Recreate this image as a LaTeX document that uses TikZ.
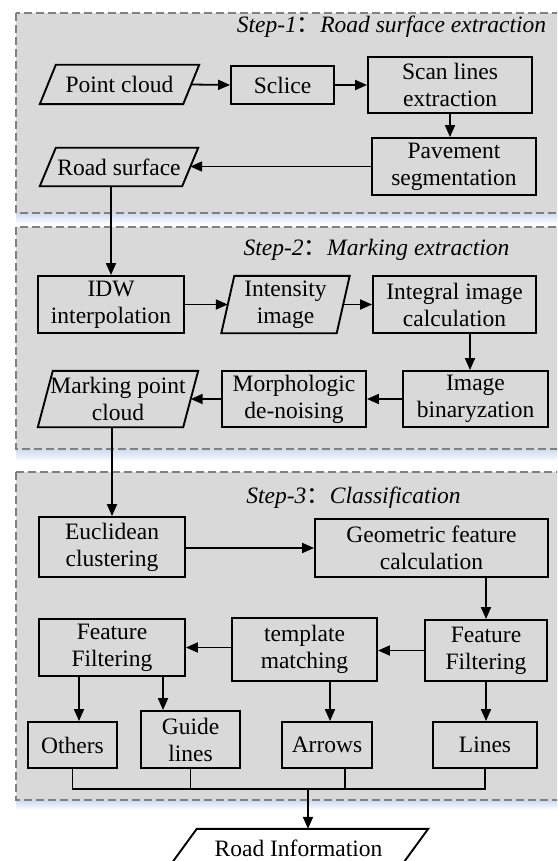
\documentclass[tikz,border=0pt]{standalone}
\usepackage{fontspec}
\setmainfont{Liberation Serif}
\newfontfamily\cjk{Noto Sans CJK SC}
\usetikzlibrary{arrows.meta,calc}
\definecolor{panelfill}{RGB}{217,217,217}
\definecolor{paneldash}{RGB}{128,128,128}
\definecolor{glow}{RGB}{205,218,238}
\newcommand{\plgram}[2]{\draw[boxline] ([xshift={-(#2)/2}]#1.south west) -- ([xshift={(#2)/2}]#1.north west) -- ([xshift={(#2)/2}]#1.north east) -- ([xshift={-(#2)/2}]#1.south east) -- cycle;}
\tikzset{
  boxline/.style={line width=1.9pt, draw=black},
  box/.style={draw=black, line width=1.9pt, inner sep=0pt, align=center, font=\fontsize{23.5}{27}\selectfont},
  plain/.style={draw=none, inner sep=0pt, align=center, font=\fontsize{23.5}{27}\selectfont},
  arr/.style={line width=1.8pt, -{Triangle[length=12pt,width=10pt]}},
  link/.style={line width=1.8pt},
  panel/.style={fill=panelfill, draw=paneldash, line width=1.8pt, dash pattern=on 8pt off 4pt},
  title/.style={font=\fontsize{23.5}{27}\selectfont\itshape, anchor=base, inner sep=0pt}
}
\begin{document}
\begin{tikzpicture}[x=1pt,y=-1pt]
\useasboundingbox (0,0) rectangle (557,861);
\clip (0,0) rectangle (557,861);
% glow under panels
\shade[top color=glow, bottom color=white] (16,213) rectangle (580,224);
\shade[top color=glow, bottom color=white] (16,449) rectangle (580,462);
\shade[top color=glow, bottom color=white] (16,800) rectangle (580,810);
% panels
\draw[panel] (16,13) rectangle (580,213);
\draw[panel] (16,227) rectangle (580,449);
\draw[panel] (16,472) rectangle (580,800);
% titles
\node[title] (t1) at (391.5,33) {Step-1{\cjk ：}Road surface extraction};
\node[title] (t2) at (376.5,255) {Step-2{\cjk ：}Marking extraction};
\node[title] (t3) at (353.5,503) {Step-3{\cjk ：}Classification};
% step 1
\node[plain, minimum width=143, minimum height=39] (pc) at (119.5,84.5) {Point cloud};
\plgram{pc}{16}
\node[box, minimum width=103, minimum height=38] (sclice) at (282.5,85) {Sclice};
\node[box, minimum width=164, minimum height=56] (scan) at (450,85) {Scan lines\\extraction};
\node[box, minimum width=164, minimum height=57] (pave) at (454,166.5) {Pavement\\segmentation};
\node[plain, minimum width=142, minimum height=38] (road) at (119,167) {Road surface};
\plgram{road}{16}
% step 2
\node[box, minimum width=146, minimum height=57] (idw) at (111,304.5) {IDW\\interpolation};
\node[plain, minimum width=115, minimum height=57] (inten) at (285.5,304.5) {Intensity\\image};
\plgram{inten}{13}
\node[box, minimum width=163, minimum height=57] (integ) at (454.5,304.5) {Integral image\\calculation};
\node[box, minimum width=145, minimum height=56] (binar) at (475.5,399) {Image\\binaryzation};
\node[box, minimum width=144, minimum height=56] (morph) at (294,399) {Morphologic\\de-noising};
\node[plain, minimum width=145, minimum height=56] (mark) at (118,399) {Marking point\\cloud};
\plgram{mark}{15}
% step 3
\node[box, minimum width=146, minimum height=60] (eucl) at (112,547) {Euclidean\\clustering};
\node[box, minimum width=233, minimum height=58] (geo) at (431.5,548) {Geometric feature\\calculation};
\node[box, minimum width=122, minimum height=61] (ffr) at (486,650.5) {Feature\\Filtering};
\node[box, minimum width=145, minimum height=63] (tmpl) at (304.5,649.5) {template\\matching};
\node[box, minimum width=146, minimum height=57] (ffl) at (112,647.5) {Feature\\Filtering};
\node[box, minimum width=89, minimum height=46] (others) at (72.5,745) {Others};
\node[box, minimum width=99, minimum height=57] (guide) at (190.5,739.5) {Guide\\lines};
\node[box, minimum width=90, minimum height=46] (arrows) at (327,745) {Arrows};
\node[box, minimum width=104, minimum height=46] (lines) at (485,745) {Lines};
\node[plain, minimum width=231, minimum height=38] (rinfo) at (298.5,848) {Road Information};
\plgram{rinfo}{28}
\coordinate (bus) at (308,789);
% connectors step 1
\draw[arr] (pc.east) -- (sclice.west);
\draw[arr] (sclice.east) -- (sclice.east -| scan.west);
\draw[arr] (scan.south) -- (scan.south |- pave.north);
\draw[arr] (pave.west) -- (pave.west -| road.east);
\draw[arr] (idw.north |- road.south) -- (idw.north);
% step 2
\draw[arr] (idw.east) -- (inten.west);
\draw[arr] (inten.east) -- (integ.west);
\draw[arr] ([xshift=15.5pt]integ.south) -- ([xshift=15.5pt]integ.south |- binar.north);
\draw[arr] (binar.west) -- (morph.east);
\draw[arr] (morph.west) -- (mark.east);
\draw[arr] (eucl.north |- mark.south) -- (eucl.north);
% step 3
\draw[arr] (eucl.east |- geo.west) -- (geo.west);
\draw[arr] (ffr.north |- geo.south) -- (ffr.north);
\draw[arr] (ffr.west) -- (ffr.west -| tmpl.east);
\draw[arr] (tmpl.west |- ffl.east) -- (ffl.east);
\draw[arr] ([xshift=6.5pt]others.north |- ffl.south) -- ([xshift=6.5pt]others.north);
\draw[arr] ([xshift=-27.5pt]guide.north |- ffl.south) -- ([xshift=-27.5pt]guide.north);
\draw[arr] ([xshift=3pt]arrows.north |- tmpl.south) -- ([xshift=3pt]arrows.north);
\draw[arr] (ffr.south) -- (ffr.south |- lines.north);
% bus
\draw[link] (others.south) -- (others.south |- bus) -- (lines.south |- bus) -- (lines.south);
\draw[link] (guide.south) -- (guide.south |- bus);
\draw[link] ([xshift=18pt]arrows.south) -- ([xshift=18pt]arrows.south |- bus);
\draw[arr] (bus) -- (bus |- rinfo.north);
\end{tikzpicture}
\end{document}
